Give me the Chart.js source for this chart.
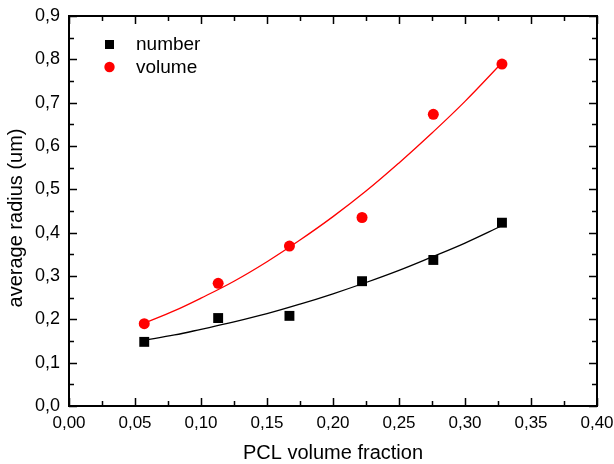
<!DOCTYPE html>
<html><head><meta charset="utf-8">
<script src="https://cdn.jsdelivr.net/npm/chart.js@4/dist/chart.umd.min.js"></script>
<style>html,body{margin:0;padding:0;background:#fff}#wrap{width:614px;height:464px}</style>
</head><body><div id="wrap"><canvas id="c" width="614" height="464"></canvas></div>
<script>
const pclFraction = [0.057, 0.113, 0.167, 0.222, 0.276, 0.328];
const numberRadius = [0.148, 0.203, 0.208, 0.288, 0.337, 0.423];
const volumeRadius = [0.190, 0.283, 0.369, 0.435, 0.673, 0.789];
const fitX = [0.057, 0.08, 0.10, 0.125, 0.15, 0.175, 0.20, 0.225, 0.25, 0.275, 0.30, 0.328];
const numberFit = [0.152, 0.164, 0.177, 0.194, 0.213, 0.235, 0.259, 0.285, 0.313, 0.344, 0.376, 0.416];
const volumeFit = [0.191, 0.220, 0.249, 0.288, 0.333, 0.383, 0.437, 0.496, 0.561, 0.630, 0.703, 0.792];
const xTickValues = [0, 0.05, 0.10, 0.15, 0.20, 0.25, 0.30, 0.35, 0.40];
const xTickLabels = ['0,00', '0,05', '0,10', '0,15', '0,20', '0,25', '0,30', '0,35', '0,40'];
const yTickValues = [0, 0.1, 0.2, 0.3, 0.4, 0.5, 0.6, 0.7, 0.8, 0.9];
const yTickLabels = ['0,0', '0,1', '0,2', '0,3', '0,4', '0,5', '0,6', '0,7', '0,8', '0,9'];
const xTitle = 'PCL volume fraction';
const yTitle = 'average radius (um)';
const seriesNames = ['number', 'volume'];

const FONT = "'Liberation Sans', Arial, sans-serif";
const pts = (xs, ys) => xs.map((x, i) => ({x: x, y: ys[i]}));

const framePlugin = {
  id: 'frame',
  afterDatasetsDraw(chart) {
    const ctx = chart.ctx, a = chart.chartArea;
    const xs = chart.scales.x, ys = chart.scales.y;
    ctx.save();
    ctx.strokeStyle = '#000';
    ctx.lineWidth = 1.5;
    ctx.beginPath();
    for (let i = 0; i < xTickValues.length; i++) {
      const px = Math.round(xs.getPixelForValue(xTickValues[i])) + 0.5;
      ctx.moveTo(px, a.bottom); ctx.lineTo(px, a.bottom - 8);
      ctx.moveTo(px, a.top); ctx.lineTo(px, a.top + 8);
      if (i < xTickValues.length - 1) {
        const pm = Math.round(xs.getPixelForValue((xTickValues[i] + xTickValues[i + 1]) / 2)) + 0.5;
        ctx.moveTo(pm, a.bottom); ctx.lineTo(pm, a.bottom - 5);
        ctx.moveTo(pm, a.top); ctx.lineTo(pm, a.top + 5);
      }
    }
    for (let i = 0; i < yTickValues.length; i++) {
      const py = Math.round(ys.getPixelForValue(yTickValues[i])) + 0.5;
      ctx.moveTo(a.left, py); ctx.lineTo(a.left + 8, py);
      ctx.moveTo(a.right, py); ctx.lineTo(a.right - 8, py);
      if (i < yTickValues.length - 1) {
        const pm = Math.round(ys.getPixelForValue((yTickValues[i] + yTickValues[i + 1]) / 2)) + 0.5;
        ctx.moveTo(a.left, pm); ctx.lineTo(a.left + 5, pm);
        ctx.moveTo(a.right, pm); ctx.lineTo(a.right - 5, pm);
      }
    }
    ctx.stroke();
    ctx.lineWidth = 2;
    ctx.strokeRect(a.left, a.top, a.right - a.left, a.bottom - a.top);

    ctx.fillStyle = '#000';
    ctx.font = '20px ' + FONT;
    ctx.textAlign = 'center';
    ctx.textBaseline = 'middle';
    ctx.fillText(xTitle, (a.left + a.right) / 2, 453);
    ctx.save();
    ctx.translate(16, 218);
    ctx.rotate(-Math.PI / 2);
    ctx.fillText(yTitle, 0, 0);
    ctx.restore();

    ctx.font = '19px ' + FONT;
    ctx.textAlign = 'left';
    ctx.fillStyle = '#000';
    ctx.fillRect(105, 40, 9, 9);
    ctx.fillText(seriesNames[0], 136, 45);
    ctx.fillStyle = '#ff0000';
    ctx.beginPath(); ctx.arc(109.5, 67, 5.2, 0, Math.PI * 2); ctx.fill();
    ctx.fillStyle = '#000';
    ctx.fillText(seriesNames[1], 136, 68);
    ctx.restore();
  }
};

new Chart(document.getElementById('c'), {
  type: 'scatter',
  data: {
    datasets: [
      {label: seriesNames[0] + ' fit', type: 'line', data: pts(fitX, numberFit), borderColor: '#000', borderWidth: 1.3, pointRadius: 0, tension: 0.4, fill: false, order: 3},
      {label: seriesNames[1] + ' fit', type: 'line', data: pts(fitX, volumeFit), borderColor: '#ff0000', borderWidth: 1.3, pointRadius: 0, tension: 0.4, fill: false, order: 2},
      {label: seriesNames[0], data: pts(pclFraction, numberRadius), pointStyle: 'rect', pointRadius: 7, backgroundColor: '#000', borderColor: '#000', borderWidth: 0, order: 1},
      {label: seriesNames[1], data: pts(pclFraction, volumeRadius), pointStyle: 'circle', pointRadius: 5.5, backgroundColor: '#ff0000', borderColor: '#ff0000', borderWidth: 0, order: 0}
    ]
  },
  options: {
    responsive: false,
    animation: false,
    devicePixelRatio: 1,
    layout: {padding: {top: 16, right: 17, left: 0, bottom: 0}},
    plugins: {legend: {display: false}, tooltip: {enabled: false}},
    scales: {
      x: {
        type: 'linear', min: 0, max: 0.4,
        afterBuildTicks: s => { s.ticks = xTickValues.map(v => ({value: v})); },
        afterFit: s => { s.height = 58; s.paddingLeft = 0; s.paddingRight = 0; },
        grid: {display: false, drawTicks: false}, border: {display: false},
        ticks: {color: '#000', font: {size: 17, family: FONT}, padding: 7, maxRotation: 0, autoSkip: false,
          callback: (v, i) => xTickLabels[i]}
      },
      y: {
        type: 'linear', min: 0, max: 0.9,
        afterBuildTicks: s => { s.ticks = yTickValues.map(v => ({value: v})); },
        afterFit: s => { s.width = 69; s.paddingTop = 0; s.paddingBottom = 0; },
        grid: {display: false, drawTicks: false}, border: {display: false},
        ticks: {color: '#000', font: {size: 18, family: FONT}, padding: 9, autoSkip: false,
          callback: (v, i) => yTickLabels[i]}
      }
    }
  },
  plugins: [framePlugin]
});
</script>
</body></html>
